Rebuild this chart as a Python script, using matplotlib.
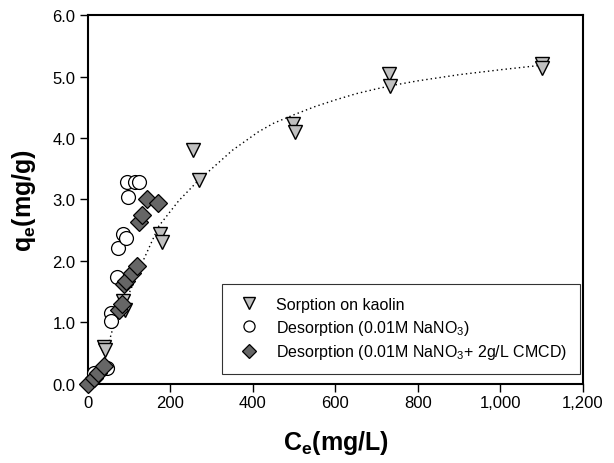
import matplotlib
matplotlib.use("Agg")
import matplotlib.pyplot as plt
from matplotlib.ticker import FuncFormatter, MultipleLocator

plt.rcParams['font.family'] = ['Liberation Sans', 'DejaVu Sans']
plt.rcParams['mathtext.fontset'] = 'custom'
plt.rcParams['mathtext.rm'] = 'Liberation Sans'
plt.rcParams['mathtext.bf'] = 'Liberation Sans:bold'

# Sorption on kaolin (triangles)
sorp_c = [40, 42, 85, 90, 175, 179, 254, 269, 497, 502, 730, 732, 1100, 1100]
sorp_q = [0.6, 0.55, 1.35, 1.2, 2.44, 2.31, 3.8, 3.32, 4.23, 4.1, 5.04, 4.85, 5.2, 5.14]

# Desorption (0.01M NaNO3) (open circles)
des_c = [15, 45, 55, 57, 70, 73, 84, 92, 97, 95, 115, 123]
des_q = [0.18, 0.26, 1.16, 1.02, 1.74, 2.21, 2.44, 2.38, 3.04, 3.28, 3.28, 3.28]

# Desorption (0.01M NaNO3 + 2g/L CMCD) (diamonds)
cmcd_c = [0, 14, 25, 40, 75, 83, 88, 92, 107, 118, 123, 131, 143, 169]
cmcd_q = [0.0, 0.09, 0.18, 0.3, 1.2, 1.3, 1.63, 1.68, 1.8, 1.92, 2.63, 2.75, 3.0, 2.95]

# fitted curve
fit_c = [0, 20, 40, 58, 100, 130, 172, 220, 269, 300, 350, 413, 450, 500, 550, 600,
         650, 700, 750, 800, 850, 900, 950, 1000, 1095]
fit_q = [0.0, 0.12, 0.42, 0.85, 1.48, 1.95, 2.57, 2.98, 3.32, 3.5, 3.8, 4.1, 4.24, 4.38,
         4.51, 4.62, 4.72, 4.8, 4.87, 4.93, 4.98, 5.03, 5.07, 5.11, 5.18]

fig = plt.figure(figsize=(6.14, 4.64), dpi=100)
ax = fig.add_axes([0.1433, 0.1703, 0.8062, 0.7952])

ax.plot(fit_c, fit_q, color='black', linestyle=(0, (1, 2.2)), linewidth=1.0, zorder=1)
ax.plot(sorp_c, sorp_q, linestyle='none', marker='v', markersize=10,
        markerfacecolor='#c0c0c0', markeredgecolor='black', markeredgewidth=1.0,
        label='Sorption on kaolin', zorder=2, clip_on=False)
ax.plot(des_c, des_q, linestyle='none', marker='o', markersize=10,
        markerfacecolor='white', markeredgecolor='black', markeredgewidth=0.9,
        label='Desorption (0.01M NaNO$_\\mathregular{3}$)', zorder=3, clip_on=False)
ax.plot(cmcd_c, cmcd_q, linestyle='none', marker='D', markersize=9,
        markerfacecolor='#666666', markeredgecolor='black', markeredgewidth=0.9,
        label='Desorption (0.01M NaNO$_\\mathregular{3}$+ 2g/L CMCD)', zorder=4, clip_on=False)

ax.set_xlim(0, 1200)
ax.set_ylim(0, 6)
ax.xaxis.set_major_locator(MultipleLocator(200))
ax.yaxis.set_major_locator(MultipleLocator(1))
ax.xaxis.set_major_formatter(FuncFormatter(lambda v, p: f'{int(v):,}'))
ax.yaxis.set_major_formatter(FuncFormatter(lambda v, p: f'{v:.1f}'))
ax.tick_params(direction='out', length=6, width=1, labelsize=12)
ax.tick_params(axis='x', pad=2)
ax.tick_params(axis='y', pad=3)
for s in ax.spines.values():
    s.set_linewidth(1.5)

ax.set_xlabel(r'$\mathbf{C_e}$(mg/L)', fontsize=18, fontweight='bold', labelpad=13)
ax.set_ylabel(r'$\mathbf{q_e}$(mg/g)', fontsize=18, fontweight='bold', labelpad=10)

leg = ax.legend(loc='lower right', bbox_to_anchor=(0.994, 0.027), borderaxespad=0,
                fontsize=11.5, frameon=True, fancybox=False, edgecolor='black',
                borderpad=0.8, handletextpad=0.8, labelspacing=0.35, handlelength=1.8,
                markerscale=0.8)
leg.get_frame().set_linewidth(0.8)

fig.savefig('out.png', dpi=100)
